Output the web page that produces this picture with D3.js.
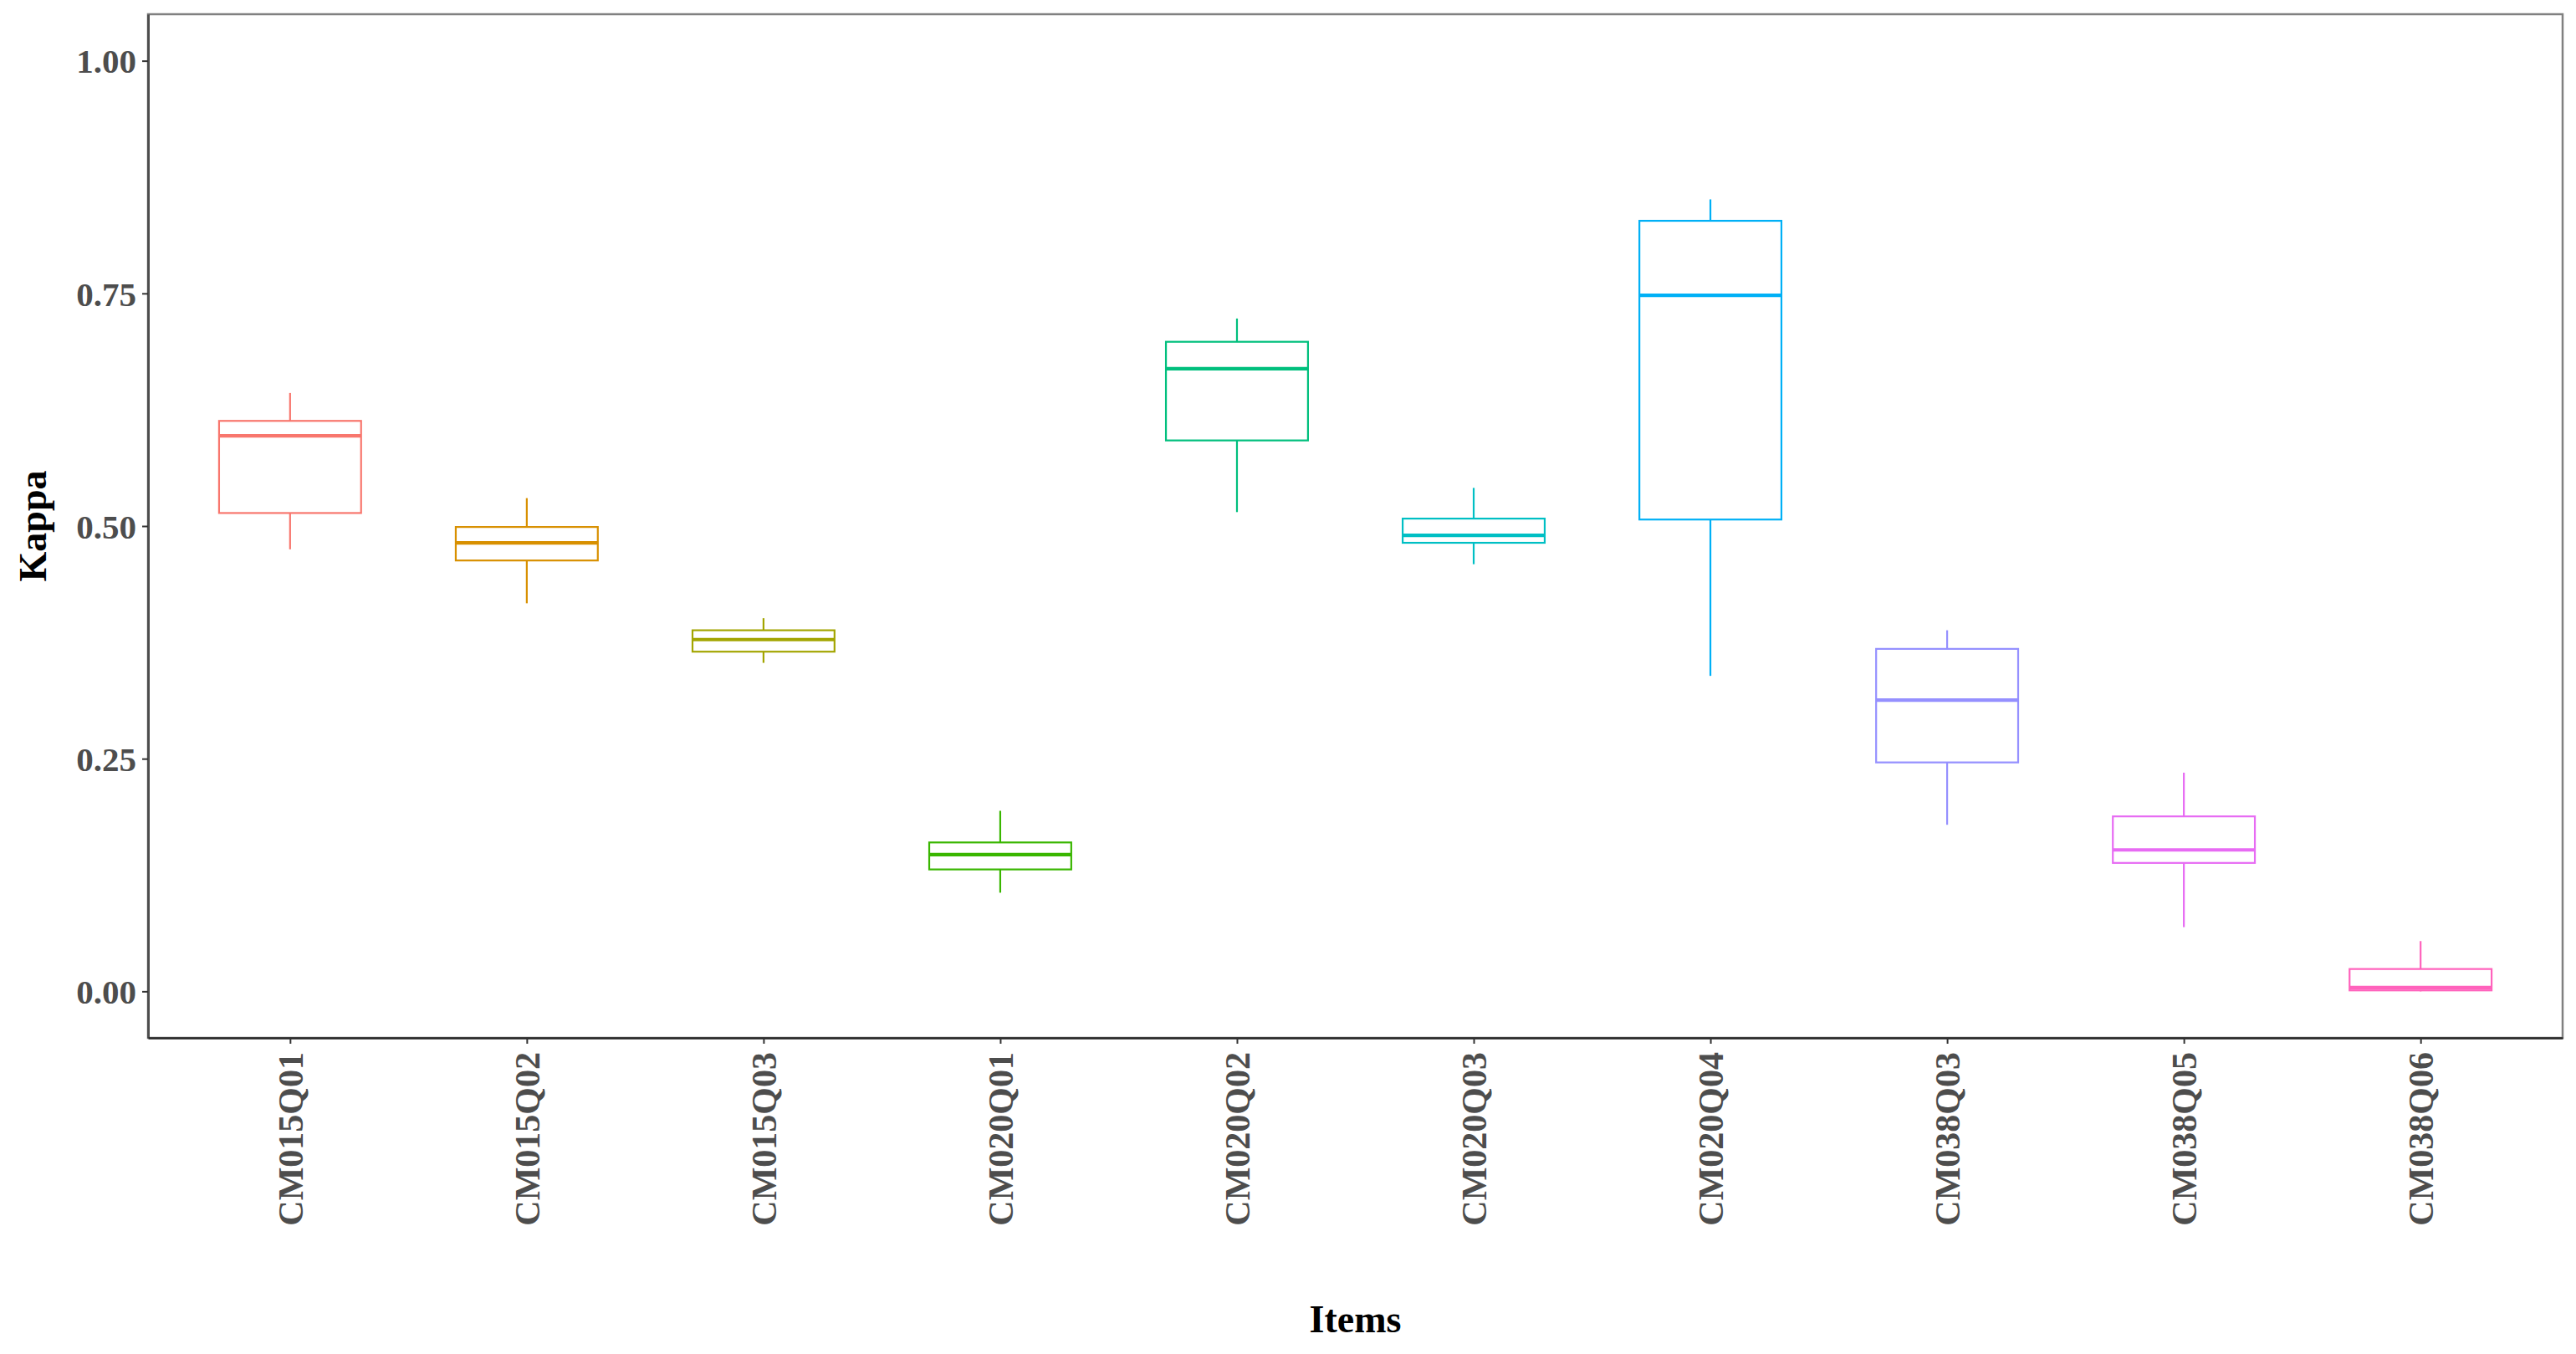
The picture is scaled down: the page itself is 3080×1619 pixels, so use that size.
<!DOCTYPE html>
<html>
<head>
    <title>Kappa boxplot</title>
    <meta charset="utf-8" />
    <script type="text/javascript" src="https://cdn.jsdelivr.net/npm/d3@7"></script>
    <style>
        body { margin: 0; background: #fff; }
        text { font-family: "Liberation Serif", "Times New Roman", serif; font-weight: bold; }
    </style>
</head>
<body>
    <script type="text/javascript">

        // data (five number summary per item)
        var items = ["CM015Q01", "CM015Q02", "CM015Q03", "CM020Q01", "CM020Q02",
                     "CM020Q03", "CM020Q04", "CM038Q03", "CM038Q05", "CM038Q06"];
        var lowVals  = [0.475, 0.417, 0.353, 0.106, 0.515, 0.459, 0.339, 0.179, 0.069, 0.000];
        var q1Vals   = [0.514, 0.463, 0.365, 0.131, 0.592, 0.482, 0.507, 0.246, 0.138, 0.001];
        var medVals  = [0.597, 0.482, 0.378, 0.147, 0.669, 0.490, 0.748, 0.313, 0.152, 0.004];
        var q3Vals   = [0.613, 0.499, 0.388, 0.160, 0.698, 0.508, 0.828, 0.368, 0.188, 0.024];
        var highVals = [0.643, 0.530, 0.401, 0.194, 0.723, 0.541, 0.851, 0.388, 0.235, 0.054];
        var colors = ["#F8766D", "#D89000", "#A3A500", "#39B600", "#00BF7D",
                      "#00BFC4", "#00B0F6", "#9590FF", "#E76BF3", "#FF62BC"];
        var yTicks = [0, 0.25, 0.5, 0.75, 1];

        //Width and height
        var w = 3080;
        var h = 1619;
        var padL = 177, padR = 3064, padT = 17, padB = 1241;

        var dataset = items.map(function (d, i) {
            return { item: d, low: lowVals[i], q1: q1Vals[i], med: medVals[i],
                     q3: q3Vals[i], high: highVals[i], color: colors[i] };
        });

        var xScale = d3.scalePoint()
            .domain(items)
            .range([padL, padR])
            .padding(0.6);

        var boxW = xScale.step() * 0.6;

        var yScale = d3.scaleLinear()
            .domain([-0.05, 1.05])
            .range([padB, padT]);

        //Create SVG element
        var svg = d3.select("body")
                    .append("svg")
                    .attr("width", w)
                    .attr("height", h);

        svg.append("rect")
            .attr("width", w).attr("height", h)
            .attr("fill", "#fff");

        // boxes
        var g = svg.selectAll("g.box")
            .data(dataset)
            .enter()
            .append("g")
            .attr("class", "box");

        // whiskers
        g.append("line")
            .attr("x1", function (d) { return xScale(d.item); })
            .attr("x2", function (d) { return xScale(d.item); })
            .attr("y1", function (d) { return yScale(d.q3); })
            .attr("y2", function (d) { return yScale(d.high); })
            .attr("stroke", function (d) { return d.color; })
            .attr("stroke-width", 2.2);

        g.append("line")
            .attr("x1", function (d) { return xScale(d.item); })
            .attr("x2", function (d) { return xScale(d.item); })
            .attr("y1", function (d) { return yScale(d.q1); })
            .attr("y2", function (d) { return yScale(d.low); })
            .attr("stroke", function (d) { return d.color; })
            .attr("stroke-width", 2.2);

        g.append("rect")
            .attr("x", function (d) { return xScale(d.item) - boxW / 2; })
            .attr("y", function (d) { return yScale(d.q3); })
            .attr("width", boxW)
            .attr("height", function (d) { return yScale(d.q1) - yScale(d.q3); })
            .attr("fill", "#fff")
            .attr("stroke", function (d) { return d.color; })
            .attr("stroke-width", 2.2);

        // median
        g.append("line")
            .attr("x1", function (d) { return xScale(d.item) - boxW / 2; })
            .attr("x2", function (d) { return xScale(d.item) + boxW / 2; })
            .attr("y1", function (d) { return yScale(d.med); })
            .attr("y2", function (d) { return yScale(d.med); })
            .attr("stroke", function (d) { return d.color; })
            .attr("stroke-width", 4.2);

        // panel border
        svg.append("rect")
            .attr("x", padL).attr("y", padT)
            .attr("width", padR - padL).attr("height", padB - padT)
            .attr("fill", "none")
            .attr("stroke", "#808080")
            .attr("stroke-width", 2.5);

        //Y axis
        var yAxis = svg.append("g")
            .attr("transform", "translate(" + padL + ",0)")
            .call(d3.axisLeft(yScale).tickValues(yTicks).tickFormat(d3.format(".2f"))
                  .tickSize(7).tickPadding(7).tickSizeOuter(0));
        yAxis.select(".domain").attr("stroke", "#4D4D4D").attr("stroke-width", 3);
        yAxis.selectAll(".tick line").attr("stroke", "#333").attr("stroke-width", 2);
        yAxis.selectAll(".tick text")
            .attr("fill", "#4D4D4D")
            .attr("font-size", "41px")
            .attr("font-family", null)
            .attr("dy", "0.35em");

        //X axis
        var xAxis = svg.append("g")
            .attr("transform", "translate(0," + padB + ")")
            .call(d3.axisBottom(xScale).tickSize(7).tickSizeOuter(0));
        xAxis.select(".domain").attr("stroke", "#262626").attr("stroke-width", 2.5);
        xAxis.selectAll(".tick line").attr("stroke", "#333").attr("stroke-width", 2);
        xAxis.selectAll(".tick text")
            .attr("fill", "#4D4D4D")
            .attr("font-size", "42px")
            .attr("font-family", null)
            .attr("transform", "rotate(-90)")
            .attr("text-anchor", "end")
            .attr("x", -17)
            .attr("y", 0)
            .attr("dy", "0.35em");

        // axis titles
        svg.append("text")
            .attr("x", (padL + padR) / 2)
            .attr("y", 1593)
            .attr("text-anchor", "middle")
            .attr("font-size", "46px")
            .attr("fill", "#000")
            .text("Items");

        svg.append("text")
            .attr("transform", "translate(55," + ((padT + padB) / 2) + ") rotate(-90)")
            .attr("text-anchor", "middle")
            .attr("font-size", "46px")
            .attr("fill", "#000")
            .text("Kappa");

    </script>
</body>
</html>
